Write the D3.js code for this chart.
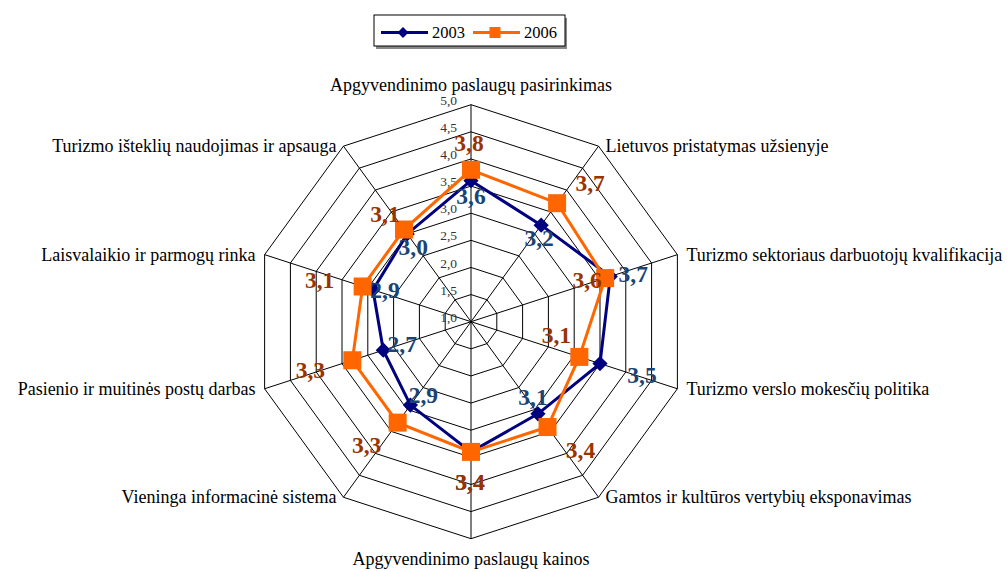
<!DOCTYPE html>
<html>
<head>
<meta charset="utf-8">
<script src="https://cdn.jsdelivr.net/npm/d3@7"></script>
<style>
  html, body { margin: 0; padding: 0; background: #fff; }
  svg { display: block; }
  text { font-family: "Liberation Serif", "Times New Roman", serif; }
</style>
</head>
<body>
<svg id="chart" width="1007" height="572"></svg>
<script>
// ---------------- DATA ----------------
const categories = [
  "Apgyvendinimo paslaugų pasirinkimas",
  "Lietuvos pristatymas užsienyje",
  "Turizmo sektoriaus darbuotojų kvalifikacija",
  "Turizmo verslo mokesčių politika",
  "Gamtos ir kultūros vertybių eksponavimas",
  "Apgyvendinimo paslaugų kainos",
  "Vieninga informacinė sistema",
  "Pasienio ir muitinės postų darbas",
  "Laisvalaikio ir parmogų rinka",
  "Turizmo išteklių naudojimas ir apsauga"
];
const seriesNames = ["2003", "2006"];
const values2003 = [3.6, 3.2, 3.7, 3.5, 3.1, 3.4, 2.9, 2.7, 2.9, 3.0];
const values2006 = [3.8, 3.7, 3.6, 3.1, 3.4, 3.4, 3.3, 3.3, 3.1, 3.1];
const tickValues = [1.0, 1.5, 2.0, 2.5, 3.0, 3.5, 4.0, 4.5, 5.0];
const tickLabels = ["1,0", "1,5", "2,0", "2,5", "3,0", "3,5", "4,0", "4,5", "5,0"];

// label offsets (px) relative to each data point, as placed in the original
const labelOffsets2003 = [[0,15],[-2,13],[23,-2],[42,11],[-5,-17],[-1,30],[13,-10],[19,-6],[12,0],[6,13]];
const labelOffsets2006 = [[-2,-27],[33,-20],[-18,2],[-23,-22],[33,23],[-1,30],[-31,22],[-42,10],[-43,-6],[-19,-16]];

// ---------------- LAYOUT ----------------
const svg = d3.select("#chart");
const cx = 471, cy = 321.7, R = 217;
const colors = { s2003: "#000080", s2006: "#FF6600", l2003: "#1A4474", l2006: "#993300" };

const r = d3.scaleLinear().domain([1, 5]).range([0, R]);
const angle = d3.scaleLinear().domain([0, categories.length]).range([0, 2 * Math.PI]);
const pt = (i, v) => [cx + r(v) * Math.sin(angle(i)), cy - r(v) * Math.cos(angle(i))];

const g = svg.append("g");

// rings
const idx = d3.range(categories.length);
g.selectAll(".ring").data(tickValues.filter(v => v > 1)).join("path")
  .attr("d", v => d3.line()(idx.map(i => pt(i, v))) + "Z")
  .attr("fill", "none").attr("stroke", "#000").attr("stroke-width", 1);

// spokes
g.selectAll(".spoke").data(idx).join("line")
  .attr("x1", cx).attr("y1", cy)
  .attr("x2", i => pt(i, 5)[0]).attr("y2", i => pt(i, 5)[1])
  .attr("stroke", "#000").attr("stroke-width", 1);

// tick labels
g.selectAll(".tick").data(tickValues).join("text")
  .attr("x", cx - 14)
  .attr("y", v => cy - r(v) - 3)
  .attr("text-anchor", "end")
  .attr("dominant-baseline", "middle")
  .attr("font-size", 13.5)
  .attr("fill", "#333")
  .text((v, i) => tickLabels[i]);

// category labels
g.selectAll(".cat").data(categories).join("text")
  .each(function(d, i) {
    const [x, y] = pt(i, 5);
    const s = Math.sin(angle(i)), c = Math.cos(angle(i));
    const t = d3.select(this);
    if (Math.abs(s) < 0.01) {
      t.attr("text-anchor", "middle").attr("x", x)
       .attr("y", c > 0 ? y - 14 : y + 26);
    } else {
      const gap = Math.abs(s) > 0.9 ? 9 : 7;
      t.attr("text-anchor", s > 0 ? "start" : "end")
       .attr("x", x + (s > 0 ? gap : -gap))
       .attr("y", y + 2)
       .attr("dominant-baseline", "middle");
    }
  })
  .attr("font-size", 18)
  .attr("fill", "#000")
  .text(d => d);

// series
const line = d3.line();
const series = [
  { name: seriesNames[0], vals: values2003, color: colors.s2003, lab: colors.l2003, off: labelOffsets2003, shape: "diamond" },
  { name: seriesNames[1], vals: values2006, color: colors.s2006, lab: colors.l2006, off: labelOffsets2006, shape: "square" }
];

function marker(sel, shape, color, size) {
  if (shape === "diamond") {
    sel.append("path")
      .attr("d", d3.symbol().type(d3.symbolSquare).size(size)())
      .attr("transform", "rotate(45)")
      .attr("fill", color);
  } else {
    sel.append("rect")
      .attr("x", -size / 2).attr("y", -size / 2)
      .attr("width", size).attr("height", size)
      .attr("fill", color);
  }
}

series.forEach(s => {
  const pts = s.vals.map((v, i) => pt(i, v));
  g.append("path")
    .attr("d", line(pts) + "Z")
    .attr("fill", "none").attr("stroke", s.color).attr("stroke-width", 3)
    .attr("stroke-linejoin", "miter");
  pts.forEach(p => {
    const m = g.append("g").attr("transform", `translate(${p[0]},${p[1]})`);
    if (s.shape === "diamond") marker(m, "diamond", s.color, 115);
    else marker(m, "square", s.color, 18);
  });
});

// data labels
series.forEach(s => {
  g.selectAll(null).data(s.vals).join("text")
    .attr("x", (v, i) => pt(i, v)[0] + s.off[i][0])
    .attr("y", (v, i) => pt(i, v)[1] + s.off[i][1])
    .attr("text-anchor", "middle")
    .attr("dominant-baseline", "central")
    .attr("font-size", 23.5)
    .attr("font-weight", "bold")
    .attr("fill", s.lab)
    .text(v => d3.format(".1f")(v).replace(".", ","));
});

// legend
const lg = svg.append("g").attr("transform", "translate(374,15)");
lg.append("rect").attr("x", 2).attr("y", 3).attr("width", 191).attr("height", 31).attr("fill", "#888");
lg.append("rect").attr("x", 0).attr("y", 0).attr("width", 191).attr("height", 31)
  .attr("fill", "#fff").attr("stroke", "#000").attr("stroke-width", 1);
const items = [
  { x: 7, s: series[0] },
  { x: 99, s: series[1] }
];
items.forEach(it => {
  const gi = lg.append("g").attr("transform", `translate(${it.x},17.5)`);
  gi.append("line").attr("x1", 0).attr("x2", 47).attr("y1", 0).attr("y2", 0)
    .attr("stroke", it.s.color).attr("stroke-width", 3);
  const m = gi.append("g").attr("transform", "translate(22,0)");
  if (it.s.shape === "diamond") marker(m, "diamond", it.s.color, 60);
  else marker(m, "square", it.s.color, 11);
  gi.append("text").attr("x", 51).attr("y", 0)
    .attr("dominant-baseline", "central")
    .attr("font-size", 16.5).attr("fill", "#000")
    .text(it.s.name);
});
</script>
</body>
</html>
